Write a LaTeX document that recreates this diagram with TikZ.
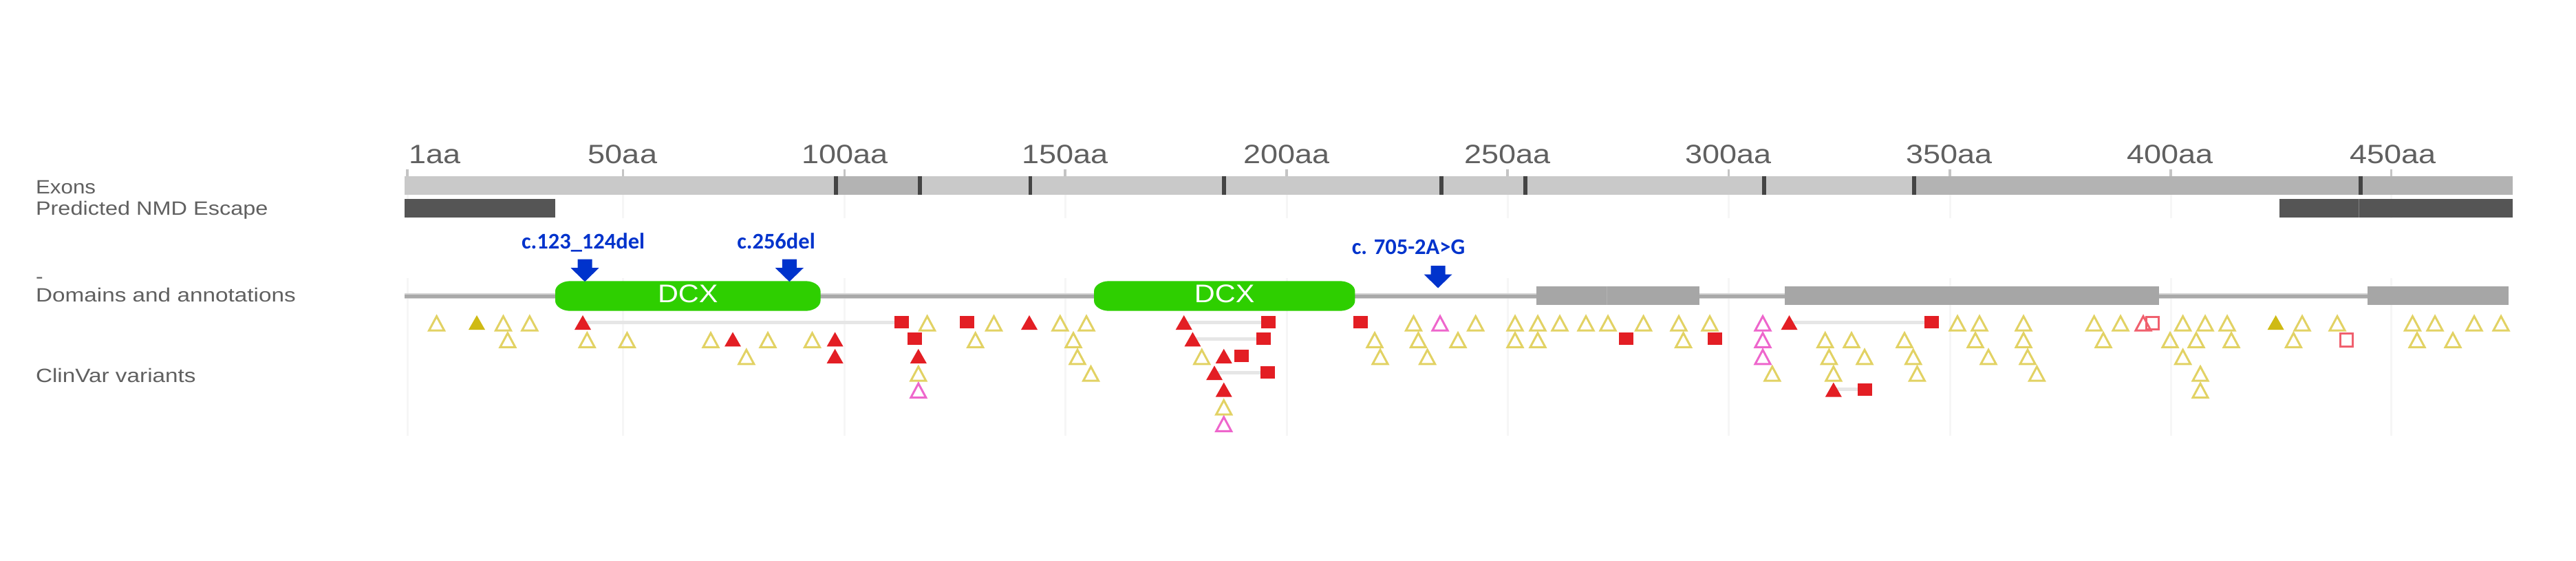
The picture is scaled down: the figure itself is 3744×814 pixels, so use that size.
\documentclass[tikz,border=0pt]{standalone}
\usepackage{fontspec}
\setmainfont{Liberation Sans}
\newfontfamily\bluefont{Carlito}
\definecolor{txtgray}{HTML}{606060}
\definecolor{exlight}{HTML}{C9C9C9}
\definecolor{exdark}{HTML}{B3B3B3}
\definecolor{juncol}{HTML}{444444}
\definecolor{nmdcol}{HTML}{555555}
\definecolor{gridcol}{HTML}{F6F6F6}
\definecolor{tickcol}{HTML}{C4C4C4}
\definecolor{dcxgreen}{HTML}{2ECF00}
\definecolor{boxgray}{HTML}{A6A6A6}
\definecolor{linegray}{HTML}{A9A9A9}
\definecolor{linkgray}{HTML}{E6E6E6}
\definecolor{arrowblue}{HTML}{0033CC}
\definecolor{yel}{HTML}{E2D264}
\definecolor{gold}{HTML}{CFBA14}
\definecolor{redv}{HTML}{E31E24}
\definecolor{mag}{HTML}{EE66CC}
\definecolor{pinkv}{HTML}{F0606E}
\tikzset{
  axislab/.style={anchor=base,text=txtgray,inner sep=0pt,font=\fontsize{7.7}{8}\selectfont},
  sidelab/.style={anchor=base west,text=txtgray,inner sep=0pt,font=\fontsize{5.6}{6}\selectfont},
  varlab/.style={anchor=base,text=arrowblue,inner sep=0pt,font=\bluefont\bfseries\fontsize{6.5}{7}\selectfont},
  dcxlab/.style={anchor=center,text=white,inner sep=0pt,font=\fontsize{7.4}{8}\selectfont},
  gridline/.style={draw=gridcol,line width=0.6pt},
  opentri/.style={line width=0.6pt,line join=miter,fill=none},
  solidsq/.style={fill=redv,draw=none},
  linkline/.style={draw=linkgray,line width=1pt},
}
\newcommand\axl[2]{\node[axislab] (ax#1) at (#2,237) {\scalebox{1.17}[1]{#1aa}};}
\newcommand\pill[3]{%
  \fill[dcxgreen] (#1+22,408.3) -- (#2-22,408.3)
    .. controls (#2-10,408.3) and (#2,415) .. (#2,423.3) -- (#2,436.7)
    .. controls (#2,445) and (#2-10,451.7) .. (#2-22,451.7) -- (#1+22,451.7)
    .. controls (#1+10,451.7) and (#1,445) .. (#1,436.7) -- (#1,423.3)
    .. controls (#1,415) and (#1+10,408.3) .. (#1+22,408.3) -- cycle;
  \node[dcxlab] (#3) at ({(#1+#2)/2},426.7) {\scalebox{1.12}[1]{DCX}};}
\newcommand\bluearrow[2]{%
  \fill[arrowblue] (#1-10.5,#2) -- (#1+10.5,#2) -- (#1+10.5,#2+12.5) -- (#1+20.5,#2+12.5)
    -- (#1,#2+32.5) -- (#1-20.5,#2+12.5) -- (#1-10.5,#2+12.5) -- cycle;}
\begin{document}
\begin{tikzpicture}[x=0.2pt,y=-0.2pt]
\useasboundingbox (0,0) rectangle (3744,814);
\fill[white] (0,0) rectangle (3744,814);
% grid lines
\foreach \x in {592,905.6,1227.7,1548,1870,2191,2512.6,2834,3155,3475.6}{
  \draw[gridline] (\x,282) -- (\x,316.7);
  \draw[gridline] (\x,404) -- (\x,632.7);
  \draw[draw=tickcol,line width=0.7pt] (\x,245.7) -- (\x,256);
}
% axis labels
\node[axislab,anchor=base west] (ax1) at (593,237) {\scalebox{1.17}[1]{1aa}};
\axl{50}{905}\axl{100}{1228}\axl{150}{1548}\axl{200}{1870}\axl{250}{2191}
\axl{300}{2512}\axl{350}{2833}\axl{400}{3154}\axl{450}{3478}
% side labels
\node[sidelab] (lexons) at (51,281.7) {\scalebox{1.12}[1]{Exons}};
\node[sidelab] (lnmd) at (51,312.7) {\scalebox{1.16}[1]{Predicted NMD Escape}};
\node[sidelab] (ldash) at (51,411) {\scalebox{1.14}[1]{-}};
\node[sidelab] (ldom) at (51,438.3) {\scalebox{1.19}[1]{Domains and annotations}};
\node[sidelab] (lclin) at (51,555) {\scalebox{1.19}[1]{ClinVar variants}};
% exons
\fill[exlight] (588,256) rectangle (3652,282.7);
\fill[exdark] (1215,256) rectangle (1337,282.7);
\fill[exdark] (2782,256) rectangle (3652,282.7);
\foreach \x in {1215,1337,1497.5,1779,2095,2217,2564,2782,3431}
  \fill[juncol] (\x-2.7,256) rectangle (\x+2.7,282.7);
% NMD
\fill[nmdcol] (588,288.7) rectangle (807,316);
\fill[nmdcol] (3312.5,288.7) rectangle (3652,316);
\draw[draw=gray,line width=0.2pt] (3428,288.7) -- (3428,316);
% domain line
\fill[linkgray!70!linegray] (588,426) rectangle (3441,434);
\fill[linegray] (588,428) rectangle (3441,432.6);
% gray boxes
\fill[boxgray] (2233,416) rectangle (2470,443.3);
\draw[draw=boxgray!85!white,line width=0.2pt] (2335,416) -- (2335,443.3);
\fill[boxgray] (2593.6,416) rectangle (3138.4,443.3);
\fill[boxgray] (3441,416) rectangle (3646,443.3);
% DCX
\pill{807}{1192.6}{dcxa}
\pill{1590}{1969.4}{dcxb}
% annotations
\bluearrow{850}{376.7}
\bluearrow{1147.3}{376.7}
\bluearrow{2090}{386}
\node[varlab] (va) at (847.6,361.7) {c.123\_124del};
\node[varlab] (vb) at (1128,361.7) {c.256del};
\node[varlab] (vc) at (2047,369) {c. 705-2A>G};
% links
\foreach \a/\b/\r in {847/1310/0,1720.7/1843/0,1733.4/1836.7/1,1765/1842.5/3,2600.5/2807/0,2664.8/2710/4}{
  \coordinate (la) at (\a,{469.5+24.4*\r-1.5});
  \coordinate (lb) at (\b,{469.5+24.4*\r-1.5});
  \draw[linkline] (la) -- (lb);
}
% open yellow triangles
\foreach \x/\r in {634.6/0,731.5/0,769.8/0,737.9/1,853.3/1,911.4/1,
  1347.6/0,1444.5/0,1540.8/0,1579/0,1033/1,1116/1,1180.5/1,1417.7/1,1560/1,1998/1,
  1084.8/2,1566/2,1746.7/2,2006/2,1334.8/3,1585.5/3,1778.7/5,
  2054.5/0,2144.7/0,2202/0,2235/0,2267/0,2305/0,2337/0,2388.6/0,2440/0,2485/0,2845/0,2877/0,
  2061.4/1,2119/1,2202/1,2235/1,2446.6/1,2652.7/1,2691/1,2768/1,2871/1,
  2074.6/2,2658.4/2,2710/2,2780.7/2,2890/2,2575.8/3,2664.8/3,2786.4/3,
  2941/0,3043.6/0,3082/0,3172.6/0,3205/0,3237/0,3346/0,3397/0,3506.4/0,3539/0,3596/0,3635/0,
  2941/1,3057/1,3154/1,3192/1,3243/1,3333.4/1,3513/1,3565/1,
  2947/2,3172.6/2,2960.4/3,3198/3,3198/4}
  \draw[opentri,draw=yel,shift={(\x,{469.5+24.4*\r})}] (-11,10.5) -- (0,-10) -- (11,10.5) -- cycle;
% open magenta triangles
\foreach \x/\r in {1334.8/4,1778.7/6,2093/0,2562/0,2562/1,2562/2}
  \draw[opentri,draw=mag,shift={(\x,{469.5+24.4*\r})}] (-11,10.5) -- (0,-10) -- (11,10.5) -- cycle;
% open pink marks
\draw[opentri,draw=pinkv,shift={(3115,469.5)}] (-11,10.5) -- (0,-10) -- (11,10.5) -- cycle;
\draw[opentri,draw=pinkv,shift={(3128,469)}] (-9,-9) rectangle (9,9);
\draw[opentri,draw=pinkv,shift={(3410,493.5)}] (-9,-9.5) rectangle (9,9.5);
% filled gold triangles
\foreach \x/\r in {693/0,3307.6/0}
  \fill[gold,shift={(\x,{469.5+24.4*\r})}] (-12,9.5) -- (0,-11.5) -- (12,9.5) -- cycle;
% filled red triangles
\foreach \x/\r in {847/0,1496/0,1720.7/0,1065/1,1213.6/1,1733.4/1,1213.6/2,1334.8/2,1778.7/2,1765/3,1778.7/4,2600.5/0,2664.8/4}
  \fill[redv,shift={(\x,{469.5+24.4*\r})}] (-12,9.5) -- (0,-11.5) -- (12,9.5) -- cycle;
% filled red squares
\foreach \x/\r in {1310/0,1405.6/0,1843/0,1977.7/0,1329/1,1836.7/1,1804/2,1842.5/3,
  2807/0,2363/1,2492/1,2710/4}
  \fill[solidsq,shift={(\x,{469.5+24.4*\r-1.5})}] (-10.5,-9) rectangle (10.5,9);
\end{tikzpicture}
\end{document}
